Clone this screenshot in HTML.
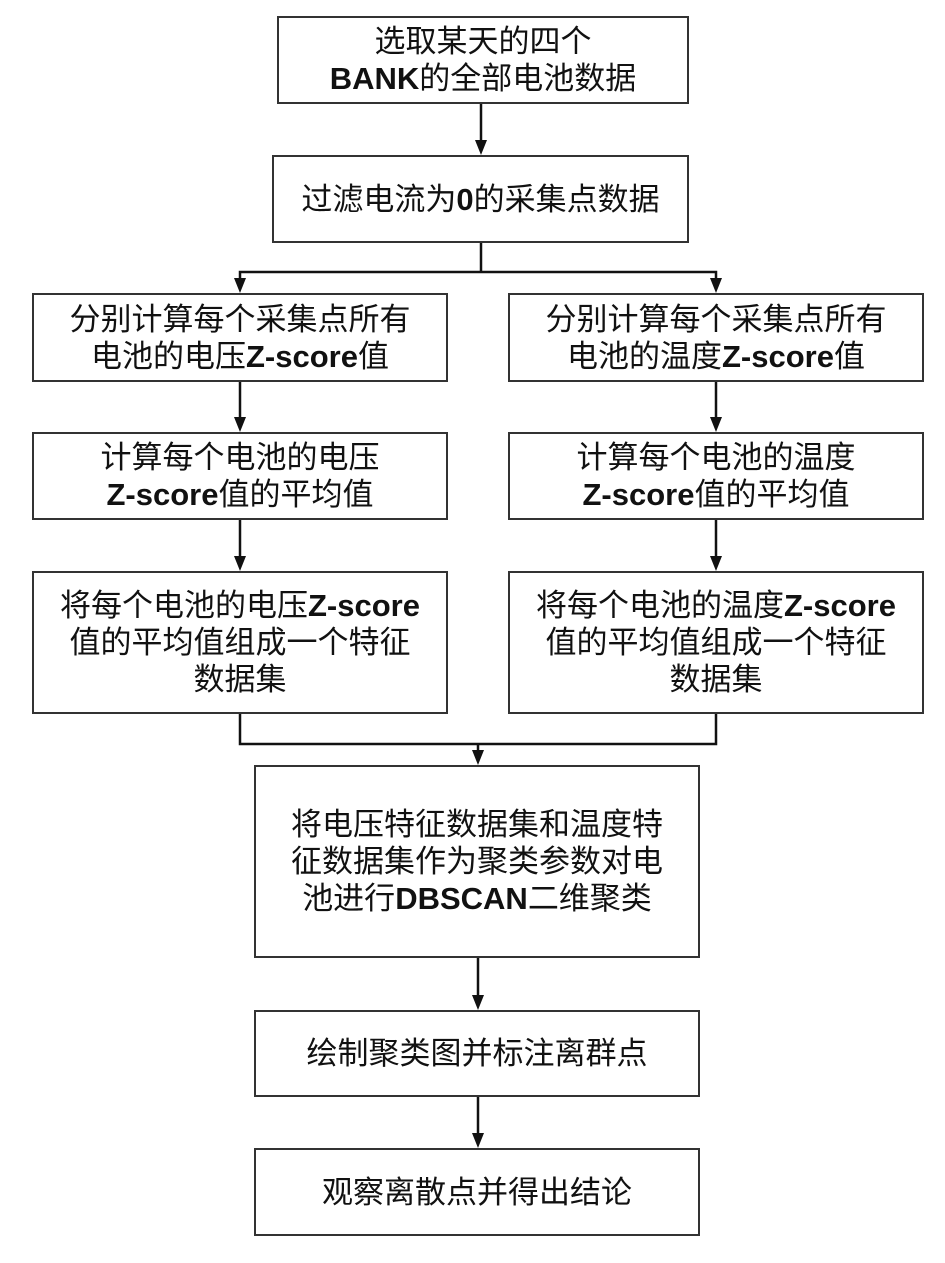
<!DOCTYPE html>
<html><head><meta charset="utf-8"><style>
html,body{margin:0;padding:0;background:#fff;}
body{width:945px;height:1263px;position:relative;overflow:hidden;font-family:"Liberation Sans","Noto Sans CJK SC",sans-serif;}
.b{position:absolute;border:2px solid #333;box-sizing:border-box;display:flex;align-items:center;justify-content:center;text-align:center;font-size:31px;line-height:37px;color:#111;}
.b span{display:block;white-space:nowrap;}
b{font-family:"Liberation Sans",sans-serif;font-weight:bold;}
svg{position:absolute;left:0;top:0;}
</style></head><body>
<svg width="945" height="1263">
<g stroke="#111" stroke-width="2.5" fill="none">
<line x1="481" y1="104" x2="481" y2="142"/>
<line x1="481" y1="243" x2="481" y2="272"/>
<polyline points="240,281 240,272 716,272 716,281"/>
<line x1="240" y1="382" x2="240" y2="420"/>
<line x1="716" y1="382" x2="716" y2="420"/>
<line x1="240" y1="520" x2="240" y2="558"/>
<line x1="716" y1="520" x2="716" y2="558"/>
<polyline points="240,714 240,744 716,744 716,714"/>
<line x1="478" y1="744" x2="478" y2="752"/>
<line x1="478" y1="958" x2="478" y2="997"/>
<line x1="478" y1="1097" x2="478" y2="1135"/>
</g>
<g fill="#111">
<polygon points="475,140 487,140 481,155"/>
<polygon points="234,278 246,278 240,293"/>
<polygon points="710,278 722,278 716,293"/>
<polygon points="234,417 246,417 240,432"/>
<polygon points="710,417 722,417 716,432"/>
<polygon points="234,556 246,556 240,571"/>
<polygon points="710,556 722,556 716,571"/>
<polygon points="472,750 484,750 478,765"/>
<polygon points="472,995 484,995 478,1010"/>
<polygon points="472,1133 484,1133 478,1148"/>
</g></svg>
<div class="b" style="left:277px;top:16px;width:412px;height:88px;"><div><span>选取某天的四个</span><span><b>BANK</b>的全部电池数据</span></div></div>
<div class="b" style="left:272px;top:155px;width:417px;height:88px;"><div><span>过滤电流为<b>0</b>的采集点数据</span></div></div>
<div class="b" style="left:32px;top:293px;width:416px;height:89px;"><div><span>分别计算每个采集点所有</span><span>电池的电压<b>Z-score</b>值</span></div></div>
<div class="b" style="left:508px;top:293px;width:416px;height:89px;"><div><span>分别计算每个采集点所有</span><span>电池的温度<b>Z-score</b>值</span></div></div>
<div class="b" style="left:32px;top:432px;width:416px;height:88px;"><div><span>计算每个电池的电压</span><span><b>Z-score</b>值的平均值</span></div></div>
<div class="b" style="left:508px;top:432px;width:416px;height:88px;"><div><span>计算每个电池的温度</span><span><b>Z-score</b>值的平均值</span></div></div>
<div class="b" style="left:32px;top:571px;width:416px;height:143px;"><div><span>将每个电池的电压<b>Z-score</b></span><span>值的平均值组成一个特征</span><span>数据集</span></div></div>
<div class="b" style="left:508px;top:571px;width:416px;height:143px;"><div><span>将每个电池的温度<b>Z-score</b></span><span>值的平均值组成一个特征</span><span>数据集</span></div></div>
<div class="b" style="left:254px;top:765px;width:446px;height:193px;"><div><span>将电压特征数据集和温度特</span><span>征数据集作为聚类参数对电</span><span>池进行<b>DBSCAN</b>二维聚类</span></div></div>
<div class="b" style="left:254px;top:1010px;width:446px;height:87px;"><div><span>绘制聚类图并标注离群点</span></div></div>
<div class="b" style="left:254px;top:1148px;width:446px;height:88px;"><div><span>观察离散点并得出结论</span></div></div>
</body></html>
